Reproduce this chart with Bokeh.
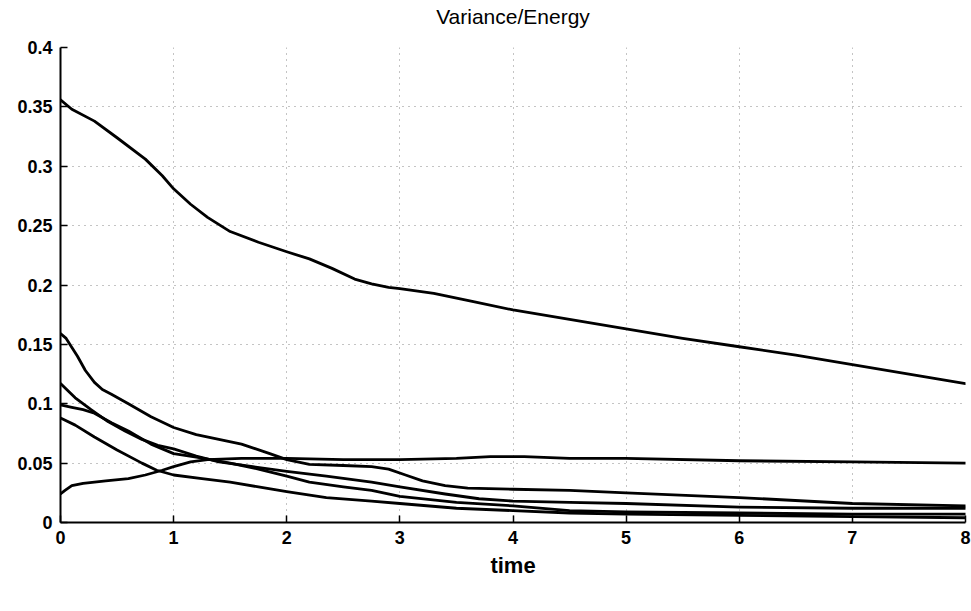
from bokeh.plotting import figure
from bokeh.models import FixedTicker, Range1d, LinearAxis
from bokeh.embed import file_html
from bokeh.resources import INLINE

# ---- data ----
t_energy = [0, 0.1, 0.3, 0.5, 0.75, 0.9, 1.0, 1.15, 1.3, 1.5, 1.75, 2.0, 2.2, 2.4, 2.6, 2.75, 2.9, 3.0, 3.3, 3.65, 4.0, 4.5, 5.0, 5.5, 6.0, 6.5, 7.0, 7.5, 8.0]
y_energy = [0.356, 0.348, 0.338, 0.324, 0.306, 0.292, 0.281, 0.268, 0.257, 0.245, 0.236, 0.228, 0.222, 0.214, 0.205, 0.201, 0.198, 0.197, 0.193, 0.186, 0.179, 0.171, 0.163, 0.155, 0.148, 0.141, 0.133, 0.125, 0.117]

t_rise = [0, 0.04, 0.1, 0.2, 0.4, 0.6, 0.75, 0.9, 1.0, 1.15, 1.3, 1.6, 2.0, 2.5, 3.0, 3.5, 3.8, 4.1, 4.5, 5.0, 6.0, 7.0, 8.0]
y_rise = [0.024, 0.027, 0.031, 0.033, 0.035, 0.037, 0.040, 0.044, 0.047, 0.051, 0.053, 0.054, 0.054, 0.053, 0.053, 0.054, 0.0555, 0.0555, 0.054, 0.054, 0.052, 0.051, 0.050]

t_a = [0, 0.05, 0.15, 0.22, 0.3, 0.37, 0.45, 0.6, 0.8, 1.0, 1.2, 1.4, 1.6, 1.85, 2.0, 2.2, 2.5, 2.75, 2.9, 3.05, 3.2, 3.4, 3.6, 4.0, 4.5, 5.0, 6.0, 7.0, 8.0]
y_a = [0.159, 0.155, 0.140, 0.128, 0.118, 0.112, 0.108, 0.100, 0.089, 0.080, 0.074, 0.070, 0.066, 0.058, 0.053, 0.049, 0.048, 0.047, 0.045, 0.040, 0.035, 0.031, 0.029, 0.028, 0.027, 0.025, 0.021, 0.016, 0.014]

t_b = [0, 0.13, 0.27, 0.42, 0.57, 0.72, 0.86, 1.0, 1.2, 1.4, 1.7, 2.0, 2.35, 2.75, 3.0, 3.4, 3.7, 4.0, 4.5, 5.0, 6.0, 7.0, 8.0]
y_b = [0.117, 0.105, 0.095, 0.085, 0.077, 0.070, 0.065, 0.062, 0.056, 0.051, 0.047, 0.043, 0.039, 0.034, 0.030, 0.024, 0.020, 0.018, 0.017, 0.016, 0.013, 0.012, 0.012]

t_c = [0, 0.1, 0.2, 0.3, 0.45, 0.6, 0.8, 1.0, 1.2, 1.5, 1.75, 2.0, 2.2, 2.5, 2.75, 3.0, 3.5, 4.0, 4.5, 5.0, 6.0, 7.0, 8.0]
y_c = [0.099, 0.097, 0.095, 0.092, 0.084, 0.077, 0.066, 0.058, 0.055, 0.050, 0.045, 0.039, 0.034, 0.030, 0.027, 0.022, 0.017, 0.014, 0.010, 0.009, 0.008, 0.007, 0.007]

t_d = [0, 0.13, 0.3, 0.5, 0.72, 0.85, 1.0, 1.25, 1.5, 1.75, 2.0, 2.35, 2.75, 3.0, 3.5, 4.0, 4.5, 5.0, 6.0, 7.0, 8.0]
y_d = [0.088, 0.082, 0.072, 0.061, 0.050, 0.044, 0.040, 0.037, 0.034, 0.030, 0.026, 0.021, 0.018, 0.016, 0.012, 0.010, 0.008, 0.007, 0.006, 0.005, 0.004]

x_ticks = [0, 1, 2, 3, 4, 5, 6, 7, 8]
x_tick_labels = ["0", "1", "2", "3", "4", "5", "6", "7", "8"]
y_ticks = [0, 0.05, 0.1, 0.15, 0.2, 0.25, 0.3, 0.35, 0.4]
y_tick_labels = ["0", "0.05", "0.1", "0.15", "0.2", "0.25", "0.3", "0.35", "0.4"]
title_text = "Variance/Energy"

FONT = "Liberation Sans"

p = figure(width=971, height=611, output_backend="svg", toolbar_location=None,
           x_range=Range1d(0, 8), y_range=Range1d(0, 0.4),
           min_border_left=60, min_border_right=6, min_border_top=47, min_border_bottom=89)
p.outline_line_color = None
p.background_fill_color = "white"
p.border_fill_color = "white"

bottom_axis = p.below[0]
left_axis = p.left[0]

bottom_axis.ticker = FixedTicker(ticks=x_ticks)
bottom_axis.major_label_overrides = {v: s for v, s in zip(x_ticks, x_tick_labels)}
left_axis.ticker = FixedTicker(ticks=y_ticks)
left_axis.major_label_overrides = {v: s for v, s in zip(y_ticks, y_tick_labels)}

for ax in (bottom_axis, left_axis):
    ax.axis_line_color = "black"
    ax.axis_line_width = 2
    ax.major_tick_in = 7
    ax.major_tick_out = 0
    ax.major_tick_line_color = "black"
    ax.major_tick_line_width = 1.5
    ax.minor_tick_line_color = None
    ax.major_label_text_font = FONT
    ax.major_label_text_font_style = "bold"
    ax.major_label_text_font_size = "18px"
    ax.major_label_text_color = "black"
    ax.major_label_standoff = 8

bottom_axis.axis_label = "time"
bottom_axis.axis_label_text_font = FONT
bottom_axis.axis_label_text_font_style = "bold"
bottom_axis.axis_label_text_font_size = "22px"
bottom_axis.axis_label_text_color = "black"
bottom_axis.axis_label_standoff = 6

p.xgrid[0].ticker = FixedTicker(ticks=x_ticks)
p.ygrid[0].ticker = FixedTicker(ticks=y_ticks)
p.grid.grid_line_color = "#888888"
p.grid.grid_line_dash = "1 5"
p.grid.grid_line_width = 1

# title drawn as the label of a bare axis above the frame
top_axis = LinearAxis(ticker=FixedTicker(ticks=[]), axis_label=title_text,
                      axis_line_color=None, major_tick_line_color=None, minor_tick_line_color=None,
                      major_tick_in=0, major_tick_out=0, minor_tick_in=0, minor_tick_out=0,
                      major_label_standoff=0, major_label_text_font_size="0px",
                      axis_label_text_font=FONT, axis_label_text_font_size="21px",
                      axis_label_text_font_style="normal", axis_label_text_color="black",
                      axis_label_standoff=20)
p.add_layout(top_axis, "above")

for tt, yy in [(t_energy, y_energy), (t_rise, y_rise), (t_a, y_a), (t_b, y_b), (t_c, y_c), (t_d, y_d)]:
    p.line(tt, yy, line_color="black", line_width=2.8, line_join="round", line_cap="round")

open("out.html", "w").write(file_html(p, INLINE))
